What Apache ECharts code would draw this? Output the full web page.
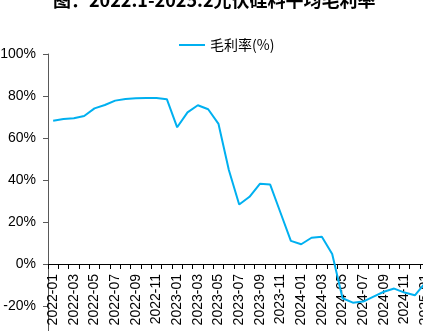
<!DOCTYPE html>
<html>
<head>
<meta charset="utf-8">
<script src="https://cdn.jsdelivr.net/npm/echarts@6/dist/echarts.min.js"></script>
<style>
html,body{margin:0;padding:0;overflow:hidden;background:#fff;width:423px;height:331px;}
#c{width:480px;height:380px;}
</style>
</head>
<body>
<div id="c"></div>
<script>
const titleText = '图：2022.1-2025.2光伏硅料平均毛利率';
const seriesName = '毛利率(%)';
const categories = [
 '2022-01','2022-02','2022-03','2022-04','2022-05','2022-06','2022-07','2022-08','2022-09','2022-10','2022-11','2022-12',
 '2023-01','2023-02','2023-03','2023-04','2023-05','2023-06','2023-07','2023-08','2023-09','2023-10','2023-11','2023-12',
 '2024-01','2024-02','2024-03','2024-04','2024-05','2024-06','2024-07','2024-08','2024-09','2024-10','2024-11','2024-12',
 '2025-01','2025-02'
];
const grossMargin = [
 68.2, 69.0, 69.4, 70.5, 74.1, 75.7, 77.8, 78.6, 78.9, 79.0, 79.0, 78.5,
 65.1, 72.2, 75.6, 73.7, 66.7, 44.8, 28.3, 32.0, 38.2, 37.8, 24.4, 11.0,
 9.4, 12.5, 13.0, 4.8, -16.3, -18.4, -17.9, -15.5, -13.2, -11.7, -13.6, -14.9,
 -9.0, -10.0
];
const yTicks = {min: -40, max: 100, interval: 20};

const gridTop = 54, gridHeight = 294;
const zeroOffset = -gridHeight * (0 - yTicks.min) / (yTicks.max - yTicks.min);

const chart = echarts.init(document.getElementById('c'));
chart.setOption({
  animation: false,
  backgroundColor: '#fff',
  title: {
    text: titleText, left: 48, top: -14,
    textStyle: {fontFamily: 'Noto Sans CJK SC', fontSize: 18, fontWeight: 'bold', color: '#000'}
  },
  legend: {
    left: 174, top: 33, itemWidth: 26, itemHeight: 2, itemGap: 10, icon: 'rect',
    textStyle: {fontFamily: 'Noto Sans CJK SC', fontSize: 14, color: '#000'},
    data: [seriesName]
  },
  grid: {left: 48, top: gridTop, right: 39.3, height: gridHeight, containLabel: false, outerBoundsMode: 'none'},
  xAxis: {
    type: 'category', data: categories, boundaryGap: true, position: 'bottom', offset: zeroOffset,
    axisLine: {onZero: false, lineStyle: {color: '#000', width: 1}},
    axisTick: {show: true, interval: 0, length: 5, lineStyle: {color: '#000'}},
    axisLabel: {interval: 1, rotate: 90, margin: 10, fontFamily: 'Liberation Sans', fontSize: 14, color: '#000'},
    splitLine: {show: false}
  },
  yAxis: {
    type: 'value', min: yTicks.min, max: yTicks.max, interval: yTicks.interval,
    axisLine: {show: true, lineStyle: {color: '#595959', width: 1}},
    axisTick: {show: true, length: 5, lineStyle: {color: '#595959'}},
    axisLabel: {formatter: '{value}%', margin: 12, fontFamily: 'Liberation Sans', fontSize: 14, color: '#000'},
    splitLine: {show: false}
  },
  series: [{
    name: seriesName, type: 'line', data: grossMargin,
    symbol: 'none', smooth: false,
    lineStyle: {color: '#00B0F0', width: 2},
    itemStyle: {color: '#00B0F0'}
  }]
});
</script>
</body>
</html>
